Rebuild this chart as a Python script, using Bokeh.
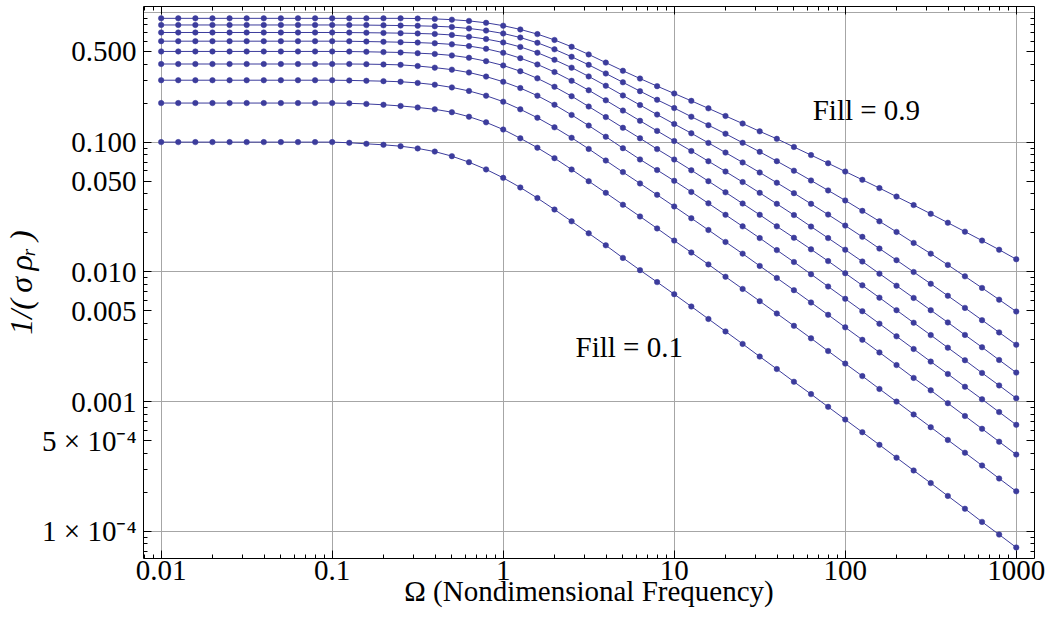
from bokeh.plotting import figure
from bokeh.models import Range1d, FixedTicker, LogAxis, Label, CustomJSTickFormatter
from bokeh.embed import file_html
from bokeh.resources import INLINE

# ---------------- data ----------------
omega = [0.01, 0.01259, 0.01585, 0.01995, 0.02512, 0.03162, 0.03981, 0.05012, 0.0631, 0.07943,
         0.1, 0.1259, 0.1585, 0.1995, 0.2512, 0.3162, 0.3981, 0.5012, 0.631, 0.7943,
         1.0, 1.259, 1.585, 1.995, 2.512, 3.162, 3.981, 5.012, 6.31, 7.943,
         10.0, 12.59, 15.85, 19.95, 25.12, 31.62, 39.81, 50.12, 63.1, 79.43,
         100.0, 125.9, 158.5, 199.5, 251.2, 316.2, 398.1, 501.2, 631.0, 794.3, 1000.0]

fill_09 = [0.9, 0.9, 0.9, 0.9, 0.9, 0.9, 0.9, 0.9, 0.9, 0.9, 0.9,
           0.9, 0.9, 0.9, 0.9, 0.897, 0.891, 0.879, 0.86, 0.831, 0.79,
           0.739, 0.68, 0.613, 0.543, 0.474, 0.41, 0.355, 0.309, 0.27, 0.237,
           0.208, 0.182, 0.159, 0.139, 0.121, 0.106, 0.0917, 0.0794, 0.0687, 0.0593,
           0.0512, 0.0442, 0.038, 0.0327, 0.028, 0.0239, 0.0204, 0.0174, 0.0148, 0.0125]
fill_08 = [0.8, 0.8, 0.8, 0.8, 0.8, 0.8, 0.8, 0.8, 0.8, 0.8, 0.8,
           0.799, 0.798, 0.795, 0.792, 0.788, 0.782, 0.772, 0.752, 0.724, 0.688,
           0.64, 0.583, 0.519, 0.455, 0.394, 0.338, 0.289, 0.247, 0.212, 0.183,
           0.157, 0.135, 0.116, 0.0988, 0.0841, 0.0713, 0.0602, 0.0506, 0.0424, 0.0355,
           0.0295, 0.0245, 0.0203, 0.0167, 0.0138, 0.0113, 0.00922, 0.00751, 0.0061, 0.00494]
fill_07 = [0.7, 0.7, 0.7, 0.7, 0.7, 0.7, 0.7, 0.7, 0.7, 0.7, 0.7,
           0.699, 0.697, 0.695, 0.692, 0.688, 0.682, 0.67, 0.65, 0.623, 0.587,
           0.542, 0.489, 0.431, 0.375, 0.321, 0.272, 0.229, 0.193, 0.163, 0.138,
           0.117, 0.0986, 0.083, 0.0697, 0.0583, 0.0486, 0.0404, 0.0334, 0.0276, 0.0227,
           0.0186, 0.0151, 0.0123, 0.00997, 0.00808, 0.00653, 0.00527, 0.00424, 0.00341, 0.00274]
fill_06 = [0.6, 0.6, 0.6, 0.6, 0.6, 0.6, 0.6, 0.6, 0.6, 0.6, 0.6,
           0.599, 0.596, 0.593, 0.589, 0.585, 0.578, 0.567, 0.55, 0.524, 0.488,
           0.444, 0.397, 0.347, 0.297, 0.251, 0.21, 0.175, 0.146, 0.122, 0.102,
           0.0854, 0.0712, 0.0593, 0.0492, 0.0406, 0.0334, 0.0274, 0.0223, 0.0182, 0.0148,
           0.012, 0.00968, 0.00781, 0.00629, 0.00506, 0.00407, 0.00326, 0.00262, 0.00209, 0.00167]
fill_05 = [0.5, 0.5, 0.5, 0.5, 0.5, 0.5, 0.5, 0.5, 0.5, 0.5, 0.5,
           0.499, 0.497, 0.494, 0.491, 0.485, 0.478, 0.466, 0.447, 0.421, 0.39,
           0.352, 0.31, 0.267, 0.226, 0.188, 0.156, 0.129, 0.107, 0.0883, 0.0734,
           0.0607, 0.05, 0.041, 0.0336, 0.0275, 0.0224, 0.0183, 0.0149, 0.0121, 0.00975,
           0.00786, 0.00632, 0.00506, 0.00405, 0.00325, 0.0026, 0.00208, 0.00166, 0.00133, 0.00106]
fill_04 = [0.4, 0.4, 0.4, 0.4, 0.4, 0.4, 0.4, 0.4, 0.4, 0.4, 0.4,
           0.4, 0.399, 0.397, 0.394, 0.386, 0.375, 0.362, 0.344, 0.32, 0.292,
           0.261, 0.228, 0.194, 0.162, 0.134, 0.11, 0.0898, 0.0735, 0.0609, 0.0503,
           0.0413, 0.0337, 0.0275, 0.0224, 0.0182, 0.0147, 0.0119, 0.00958, 0.0077, 0.00619,
           0.00497, 0.00398, 0.00318, 0.00254, 0.00203, 0.00163, 0.0013, 0.00104, 0.000829, 0.000661]
fill_03 = [0.3, 0.3, 0.3, 0.3, 0.3, 0.3, 0.3, 0.3, 0.3, 0.3, 0.3,
           0.299, 0.297, 0.295, 0.292, 0.286, 0.277, 0.264, 0.248, 0.228, 0.205,
           0.179, 0.154, 0.13, 0.108, 0.0886, 0.0721, 0.0587, 0.048, 0.0392, 0.0319,
           0.0259, 0.021, 0.017, 0.0138, 0.0111, 0.00896, 0.00722, 0.0058, 0.00466, 0.00373,
           0.00299, 0.00239, 0.00191, 0.00152, 0.00122, 0.00097, 0.000773, 0.000616, 0.00049, 0.00039]
fill_02 = [0.2, 0.2, 0.2, 0.2, 0.2, 0.2, 0.2, 0.2, 0.2, 0.2, 0.2,
           0.199, 0.197, 0.194, 0.19, 0.185, 0.179, 0.17, 0.157, 0.142, 0.125,
           0.107, 0.0905, 0.0752, 0.0615, 0.05, 0.0406, 0.0329, 0.0267, 0.0216, 0.0174,
           0.0141, 0.0114, 0.00916, 0.00738, 0.00594, 0.00477, 0.00383, 0.00307, 0.00245, 0.00196,
           0.00157, 0.00125, 0.000998, 0.000795, 0.000634, 0.000505, 0.000403, 0.000321, 0.000255, 0.000203]
fill_01 = [0.1, 0.1, 0.1, 0.1, 0.1, 0.1, 0.1, 0.1, 0.1, 0.1, 0.1,
           0.0988, 0.097, 0.0953, 0.093, 0.0894, 0.0845, 0.0779, 0.07, 0.0616, 0.053,
           0.0447, 0.037, 0.0302, 0.0245, 0.0198, 0.016, 0.0128, 0.0103, 0.00833, 0.00672,
           0.0054, 0.00433, 0.00347, 0.00278, 0.00222, 0.00178, 0.00142, 0.00114, 0.000909, 0.000726,
           0.00058, 0.000463, 0.000369, 0.000294, 0.000235, 0.000187, 0.000149, 0.000118, 9.42e-05, 7.49e-05]

series = [fill_09, fill_08, fill_07, fill_06, fill_05, fill_04, fill_03, fill_02, fill_01]

x_major = [0.01, 0.1, 1, 10, 100, 1000]
x_major_labels = ["0.01", "0.1", "1", "10", "100", "1000"]
y_major = [0.0001, 0.0005, 0.001, 0.005, 0.01, 0.05, 0.1, 0.5]
y_major_labels = ["1 \u00d7 10\u207b\u2074", "5 \u00d7 10\u207b\u2074", "0.001", "0.005",
                  "0.010", "0.050", "0.100", "0.500"]
y_grid = [0.0001, 0.001, 0.01, 0.1, 1.0]

# ---------------- styling ----------------
FONT = "Liberation Serif"
FS = "29px"
COLOR = "#3c3c9c"

W, H = 1050, 634
BL, BR, BT, BB = 141, 16, 6, 76
# log-space calibration of the frame (0.01 at 158.7 px, 171.4 px/decade; 0.1 at 141.6 px, 129.7 px/decade)
def lx(cx):
    return -2 + (cx - 158.7) / 171.4
def ly(cy):
    return -1 - (cy - 141.6) / 129.7
def to_data(cx, cy):
    return 10 ** lx(cx), 10 ** ly(cy)

x0, _ = to_data(BL, 0)
x1, _ = to_data(W - BR, 0)
_, y1 = to_data(0, BT)
_, y0 = to_data(0, H - BB)

p = figure(width=W, height=H, x_axis_type="log", y_axis_type="log",
           x_range=Range1d(x0, x1), y_range=Range1d(y0, y1),
           output_backend="svg", toolbar_location=None,
           min_border_left=BL, min_border_right=BR, min_border_top=BT, min_border_bottom=BB)
p.background_fill_color = "white"
p.border_fill_color = "white"
p.outline_line_color = None

x_minor = [0.008, 0.009] + [m * 10.0 ** k for k in range(-2, 3) for m in range(2, 10)]
y_minor = [7e-5, 8e-5, 9e-5] + [m * 10.0 ** k for k in range(-4, 0) for m in (2, 3, 4, 6, 7, 8, 9)]

def fmt(vals, labs):
    return CustomJSTickFormatter(args=dict(vals=vals, labs=labs), code="""
        for (let i = 0; i < vals.length; i++) {
            if (Math.abs(Math.log10(vals[i]) - Math.log10(tick)) < 1e-6) { return labs[i]; }
        }
        return "";
    """)

def style_axis(ax, show_labels):
    ax.axis_line_color = "black"
    ax.axis_line_width = 1
    ax.major_tick_line_color = "black"
    ax.minor_tick_line_color = "black"
    ax.major_tick_in = 8
    ax.major_tick_out = 0
    ax.minor_tick_in = 4
    ax.minor_tick_out = 0
    ax.major_label_text_font = FONT
    ax.major_label_text_color = "black"
    if show_labels:
        ax.major_label_text_font_size = FS
    else:
        ax.major_label_text_font_size = "0px"
        ax.major_label_standoff = 0

xt = FixedTicker(ticks=x_major, minor_ticks=x_minor)
yt = FixedTicker(ticks=y_major, minor_ticks=y_minor)

bx = p.xaxis[0]
bx.ticker = xt
bx.formatter = fmt(x_major, x_major_labels)
style_axis(bx, True)
bx.major_label_standoff = 2
bx.axis_label = "\u03a9 (Nondimensional Frequency)"
bx.axis_label_text_font = FONT
bx.axis_label_text_font_size = FS
bx.axis_label_text_font_style = "normal"
bx.axis_label_text_color = "black"
bx.axis_label_standoff = -8

lyax = p.yaxis[0]
lyax.ticker = yt
lyax.formatter = fmt(y_major, y_major_labels)
style_axis(lyax, True)
lyax.major_label_standoff = 7
lyax.axis_label = "1/(\u2009\u03c3\u2009\u03c1\u1d63\u2009)"
lyax.axis_label_text_font = FONT
lyax.axis_label_text_font_size = "32px"
lyax.axis_label_text_font_style = "italic"
lyax.axis_label_text_color = "black"
lyax.axis_label_standoff = 0

top = LogAxis(ticker=FixedTicker(ticks=x_major, minor_ticks=x_minor),
              formatter=fmt(x_major, ["" for _ in x_major]))
style_axis(top, False)
p.add_layout(top, "above")
right = LogAxis(ticker=FixedTicker(ticks=y_major, minor_ticks=y_minor),
                formatter=fmt(y_major, ["" for _ in y_major]))
style_axis(right, False)
p.add_layout(right, "right")

p.xgrid.ticker = FixedTicker(ticks=x_major)
p.ygrid.ticker = FixedTicker(ticks=y_grid)
for g in (p.xgrid[0], p.ygrid[0]):
    g.grid_line_color = "#a6a6a6"
    g.grid_line_width = 1

for s in series:
    assert len(s) == len(omega)
    p.line(omega, s, line_color=COLOR, line_width=1)
for s in series:
    p.scatter(omega, s, size=5.5, fill_color=COLOR, line_color=COLOR, line_width=0.5)

def add_label(text, cx, cy):
    x, y = to_data(cx, cy)
    p.add_layout(Label(x=x, y=y, text=text, text_font=FONT, text_font_size=FS,
                       text_color="black", text_align="left", text_baseline="alphabetic"))

add_label("Fill = 0.9", 811.7, 109.3)
add_label("Fill = 0.1", 574.0, 346.7)

open("out.html", "w").write(file_html(p, INLINE))
